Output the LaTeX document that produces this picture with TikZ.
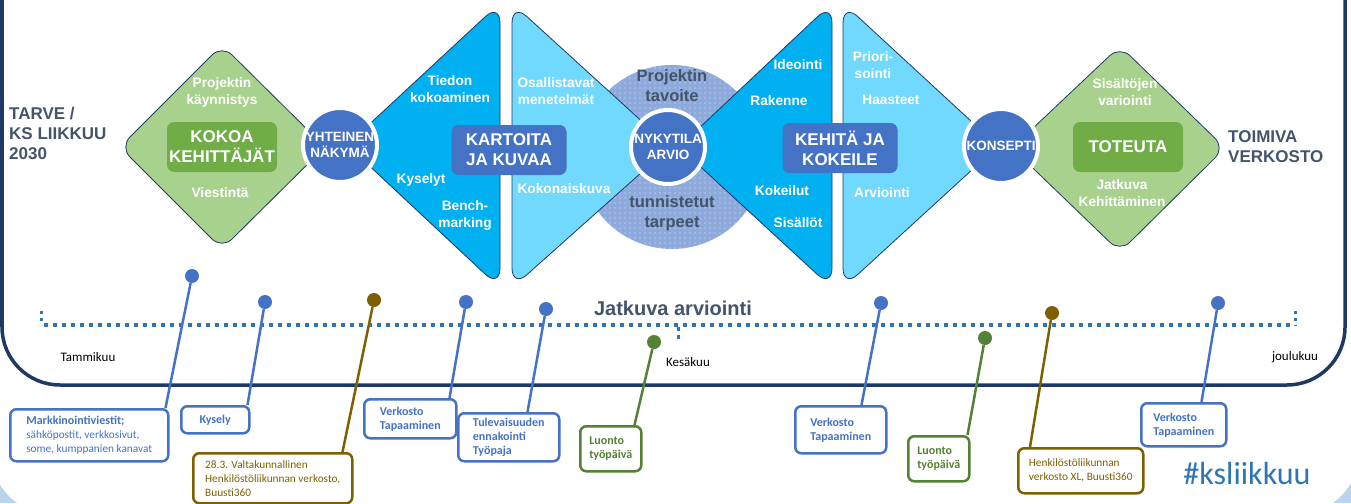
\documentclass[tikz,border=0pt]{standalone}
\usepackage{fontspec}
\setmainfont{Liberation Sans}
\newfontfamily\calfont{Carlito}
\usetikzlibrary{patterns.meta}
\definecolor{framenavy}{HTML}{1F3864}
\definecolor{slate}{HTML}{44546A}
\definecolor{leafgreen}{HTML}{A9D18E}
\definecolor{darkgreen}{HTML}{70AD47}
\definecolor{skyblue}{HTML}{00B0F0}
\definecolor{paleblue}{HTML}{71D9FD}
\definecolor{hubblue}{HTML}{4472C4}
\definecolor{dotblue}{HTML}{8EA9DB}
\definecolor{lineblue}{HTML}{2E75B6}
\definecolor{pinbrown}{HTML}{7F6000}
\definecolor{pingreen}{HTML}{538135}
\definecolor{cornerblue}{HTML}{BCD3EE}
\newcommand\fsz[2]{\fontsize{#1}{#2}\selectfont}

\begin{document}
\begin{tikzpicture}[x=1pt, y=-1pt,
    phase/.style={draw=framenavy, line width=0.8pt, rounded corners=14pt},
    hub/.style={circle, fill=hubblue, draw=white, line width=4pt, minimum size=74pt, inner sep=0pt, text=white, font=\bfseries\fsz{13.5}{16}, align=center},
    task/.style={rounded corners=7pt, minimum width=110pt, minimum height=50pt, inner sep=0pt, text=white, font=\bfseries\fsz{17}{20}, align=center},
    lbl/.style={text=white, font=\bfseries\fsz{13.7}{17}, align=center, inner sep=0pt},
    goal/.style={text=slate, font=\bfseries\fsz{16.5}{20}, align=center, inner sep=0pt},
    side/.style={text=slate, font=\bfseries\fsz{17}{20}, align=left, inner sep=0pt, anchor=west},
    month/.style={font=\calfont\fsz{13}{15}, inner sep=0pt},
    dotpin/.style={circle, fill=#1, minimum size=14pt, inner sep=0pt},
    pinline/.style={draw=#1, line width=2.5pt},
    pinbox/.style={draw=#1, text=#1, fill=white, line width=2.5pt, rounded corners=6pt, inner sep=0pt, anchor=north west, align=left, font=\calfont\fsz{11.3}{14}},
    boldbox/.style={pinbox=#1, font=\calfont\bfseries\fsz{12}{14}}
]
\clip (0,0) rectangle (1351,503);
\fill[cornerblue] (0,0) rectangle (1351,503);
\fill[white, rounded corners=65pt] (-10,-200) rectangle (1360,515);
\draw[framenavy, line width=3.5pt, rounded corners=58pt] (2,-100) rectangle (1345,385);

\fill[dotblue] (672,157) circle (92);
\fill[pattern={Dots[distance=5pt, radius=0.6pt]}, pattern color=white!75!dotblue] (672,157) circle (92);

\filldraw[phase, fill=leafgreen] (120,147) -- (222,45) -- (325,147) -- (222,249) -- cycle;
\filldraw[phase, fill=leafgreen] (1012,148) -- (1120,46) -- (1225,148) -- (1120,252) -- cycle;
\filldraw[phase, fill=skyblue, rounded corners=20pt] (500,3) -- (500,288) -- (347,145) -- cycle;
\filldraw[phase, fill=paleblue, rounded corners=20pt] (512,3) -- (670,147) -- (512,288) -- cycle;
\filldraw[phase, fill=skyblue, rounded corners=20pt] (832,3) -- (832,288) -- (679,147) -- cycle;
\filldraw[phase, fill=paleblue, rounded corners=20pt] (843,3) -- (998,146) -- (843,288) -- cycle;

\node[lbl] (kick) at (222,92) {Projektin\\käynnistys};
\node[lbl] (comms) at (220,193) {Viestintä};
\node[task, fill=darkgreen] (gather) at (222,147) {KOKOA\\KEHITTÄJÄT};
\node[lbl] (info) at (450,89) {Tiedon\\kokoaminen};
\node[lbl] (survey) at (421,180) {Kyselyt};
\node[lbl] (bench) at (465,215) {Bench-\\marking};
\node[lbl] (partic) at (556,91) {Osallistavat\\menetelmät};
\node[lbl] (whole) at (564,189) {Kokonaiskuva};
\node[goal] (target) at (672,86) {Projektin\\tavoite};
\node[goal] (needs) at (672,213) {tunnistetut\\tarpeet};
\node[lbl] (ideas) at (798,65) {Ideointi};
\node[lbl] (struct) at (779,101) {Rakenne};
\node[lbl] (trials) at (782,191) {Kokeilut};
\node[lbl] (content) at (798,223) {Sisällöt};
\node[lbl] (prio) at (873,65) {Priori-\\sointi};
\node[lbl] (chall) at (891,100) {Haasteet};
\node[lbl] (assess) at (882,193) {Arviointi};
\node[lbl] (vary) at (1125,92) {Sisältöjen\\variointi};
\node[lbl] (cont) at (1122,193) {Jatkuva\\Kehittäminen};
\node[task, fill=darkgreen] (impl) at (1128,147) {TOTEUTA};
\node[task, fill=hubblue, minimum width=115pt] (map) at (509,150) {KARTOITA\\JA KUVAA};
\node[task, fill=hubblue, minimum width=115pt] (dev) at (840,148) {KEHITÄ JA\\KOKEILE};

\node[hub] (shared) at (340,145) {YHTEINEN\\NÄKYMÄ};
\node[hub] (now) at (668,147) {NYKYTILA\\ARVIO};
\node[hub] (concept) at (1001,146) {KONSEPTI};

\node[side] (need) at (9,133) {TARVE /\\KS LIIKKUU\\2030};
\node[side] (result) at (1228,147) {TOIMIVA\\VERKOSTO};

\coordinate (jan) at (44,325);
\coordinate (dec) at (1292,325);
\draw[lineblue, line width=4pt, dash pattern=on 4pt off 5pt] (jan) -- (dec);
\draw[lineblue, line width=3pt, dash pattern=on 3pt off 4pt] (41,311) -- (41,325);
\draw[lineblue, line width=3pt, dash pattern=on 4pt off 4pt] (678,327) -- (678,340);
\draw[lineblue, line width=3pt, dash pattern=on 3pt off 4pt] (1295,311) -- (1295,326);
\node[text=slate, font=\bfseries\fsz{20}{24}, inner sep=0pt] (evalline) at (673,308) {Jatkuva arviointi};
\node[month] (tammi) at (88,357) {Tammikuu};
\node[month] (kesa) at (688,362) {Kesäkuu};
\node[month] (joulu) at (1295,357) {joulukuu};

\node[pinbox=hubblue, minimum width=158pt, minimum height=52pt] (markbox) at (9,408) {{\bfseries\fsz{12}{14}Markkinointiviestit;}\\sähköpostit, verkkosivut,\\some, kumppanien kanavat};
\node[boldbox=hubblue, minimum width=68pt, minimum height=27pt] (surveybox) at (180,405) {Kysely};
\node[pinbox=pinbrown, minimum width=159pt, minimum height=50pt] (natbox) at (192,452) {28.3. Valtakunnallinen\\Henkilöstöliikunnan verkosto,\\Buusti360};
\node[boldbox=hubblue, minimum width=92pt, minimum height=39pt] (meet1box) at (363,398) {Verkosto\\Tapaaminen};
\node[boldbox=hubblue, minimum width=101pt, minimum height=48pt] (futbox) at (457,412) {Tulevaisuuden\\ennakointi\\Työpaja};
\node[boldbox=pingreen, minimum width=61pt, minimum height=45pt] (nat1box) at (579,425) {Luonto\\työpäivä};
\node[boldbox=hubblue, minimum width=91pt, minimum height=47pt] (meet2box) at (794,405) {Verkosto\\Tapaaminen};
\node[boldbox=pingreen, minimum width=61pt, minimum height=45pt] (nat2box) at (907,435) {Luonto\\työpäivä};
\node[pinbox=pinbrown, minimum width=125pt, minimum height=45pt] (xlbox) at (1017,447) {Henkilöstöliikunnan\\verkosto XL, Buusti360};
\node[boldbox=hubblue, minimum width=85pt, minimum height=43pt] (meet3box) at (1140,402) {Verkosto\\Tapaaminen};

\node[dotpin=hubblue] (markpin) at (192,276) {};
\node[dotpin=hubblue] (surveypin) at (265,302) {};
\node[dotpin=pinbrown] (natpin) at (374,300) {};
\node[dotpin=hubblue] (meet1pin) at (466,302) {};
\node[dotpin=hubblue] (futpin) at (546,309) {};
\node[dotpin=pingreen] (nat1pin) at (654,342) {};
\node[dotpin=hubblue] (meet2pin) at (881,303) {};
\node[dotpin=pingreen] (nat2pin) at (985,338) {};
\node[dotpin=pinbrown] (xlpin) at (1052,313) {};
\node[dotpin=hubblue] (meet3pin) at (1218,303) {};

\draw[pinline=hubblue] (markpin) -- ([xshift=-4pt]markbox.north east);
\draw[pinline=hubblue] (surveypin) -- ([xshift=-3pt]surveybox.north east);
\draw[pinline=pinbrown] (natpin) -- ([xshift=-11pt]natbox.north east);
\draw[pinline=hubblue] (meet1pin) -- ([xshift=-8pt]meet1box.north east);
\draw[pinline=hubblue] (futpin) -- ([xshift=-33pt]futbox.north east);
\draw[pinline=pingreen] (nat1pin) -- ([xshift=-8pt]nat1box.north east);
\draw[pinline=hubblue] (meet2pin) -- ([xshift=-26pt]meet2box.north east);
\draw[pinline=pingreen] (nat2pin) -- ([xshift=-3pt]nat2box.north east);
\draw[pinline=pinbrown] (xlpin) -- ([xshift=13pt]xlbox.north west);
\draw[pinline=hubblue] (meet3pin) -- ([xshift=-26pt]meet3box.north east);

\node[text=lineblue, font=\calfont\fsz{32}{36}, inner sep=0pt] (tag) at (1247,474) {\#ksliikkuu};
\end{tikzpicture}
\end{document}
